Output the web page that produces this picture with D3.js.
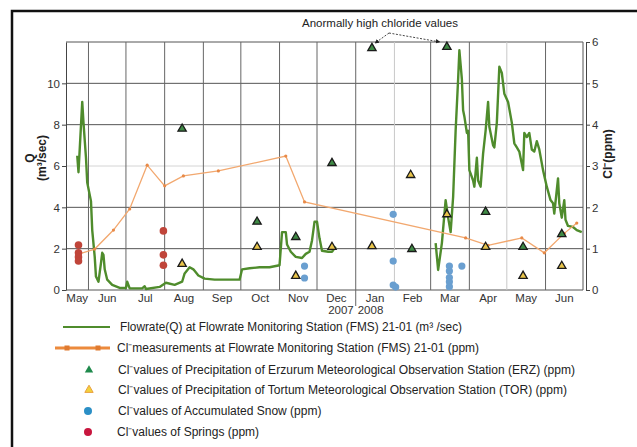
<!DOCTYPE html>
<html>

<head>
    <meta charset="utf-8">
    <style>
        body {
            margin: 0;
            background: #fff;
            font-family: "Liberation Sans", Arial, sans-serif;
        }

        svg {
            overflow: hidden;
        }

        .axis .domain {
            stroke: #444;
        }

        .axis .tick line {
            stroke: #444;
        }

        .axis .tick text {
            font-size: 11.5px;
            fill: #333;
        }

        .month {
            font-size: 11.5px;
            fill: #333;
            text-anchor: middle;
        }

        .axis-title {
            font-size: 12px;
            font-weight: bold;
            fill: #222;
            text-anchor: middle;
        }

        .legend text {
            font-size: 12px;
            fill: #222;
        }
    </style>
</head>

<body>
    <svg width="637" height="447"></svg>

    <script src="https://d3js.org/d3.v7.min.js"></script>
    <script>
        let width = 637;
        let height = 447;
        let svg = d3.select("svg");

        // Flowrate Q (m3/sec), left axis
        let flowrate2007 = [
            ["2007-05-23", 6.5], ["2007-05-24", 5.7], ["2007-05-27", 9.1], ["2007-05-28", 8.1],
            ["2007-05-30", 6.4], ["2007-05-31", 5.2], ["2007-06-03", 4.3], ["2007-06-04", 2.9],
            ["2007-06-06", 1.6], ["2007-06-07", 0.65], ["2007-06-09", 0.4], ["2007-06-11", 1.3],
            ["2007-06-12", 1.8], ["2007-06-13", 1.7], ["2007-06-14", 1.0], ["2007-06-16", 0.5],
            ["2007-06-20", 0.25], ["2007-06-26", 0.1], ["2007-07-01", 0.1], ["2007-07-02", 0.4],
            ["2007-07-04", 0.08], ["2007-07-14", 0.08], ["2007-07-16", 0.18], ["2007-07-17", 0.05],
            ["2007-07-28", 0.15], ["2007-08-02", 0.35], ["2007-08-09", 0.25], ["2007-08-15", 0.4],
            ["2007-08-17", 0.8], ["2007-08-21", 1.1], ["2007-08-24", 1.0], ["2007-08-28", 0.7],
            ["2007-09-02", 0.55], ["2007-09-10", 0.5], ["2007-09-22", 0.5], ["2007-09-30", 0.5],
            ["2007-10-02", 1.0], ["2007-10-08", 1.05], ["2007-10-16", 1.1], ["2007-10-24", 1.1],
            ["2007-11-01", 1.2], ["2007-11-03", 2.8], ["2007-11-06", 2.8], ["2007-11-07", 2.2],
            ["2007-11-10", 1.85], ["2007-11-14", 1.6], ["2007-11-19", 1.55], ["2007-11-22", 1.75],
            ["2007-11-25", 1.85], ["2007-11-27", 2.4], ["2007-11-29", 3.3], ["2007-12-01", 3.3],
            ["2007-12-03", 2.5], ["2007-12-05", 1.9], ["2007-12-10", 1.85], ["2007-12-13", 1.85],
            ["2007-12-16", 2.1]
        ];

        let flowrate2008 = [
            ["2008-03-05", 2.27], ["2008-03-07", 0.97], ["2008-03-10", 2.27], ["2008-03-13", 4.35],
            ["2008-03-15", 3.5], ["2008-03-17", 2.8], ["2008-03-19", 4.5], ["2008-03-21", 7.7],
            ["2008-03-23", 10.2], ["2008-03-24", 11.6], ["2008-03-26", 10.2], ["2008-03-27", 8.7],
            ["2008-03-28", 8.4], ["2008-03-30", 7.6], ["2008-03-31", 7.7], ["2008-04-01", 5.8],
            ["2008-04-04", 5.3], ["2008-04-05", 5.0], ["2008-04-07", 6.4], ["2008-04-08", 5.3],
            ["2008-04-10", 5.0], ["2008-04-12", 6.6], ["2008-04-14", 7.7], ["2008-04-16", 9.1],
            ["2008-04-17", 7.9], ["2008-04-20", 7.0], ["2008-04-21", 6.9], ["2008-04-23", 8.1],
            ["2008-04-25", 10.8], ["2008-04-27", 10.5], ["2008-04-29", 9.5], ["2008-05-02", 9.1],
            ["2008-05-05", 8.1], ["2008-05-07", 7.1], ["2008-05-09", 6.9], ["2008-05-11", 6.7],
            ["2008-05-14", 5.8], ["2008-05-15", 7.6], ["2008-05-17", 7.4], ["2008-05-19", 7.6],
            ["2008-05-21", 6.8], ["2008-05-23", 6.7], ["2008-05-25", 7.2], ["2008-05-27", 6.8],
            ["2008-05-30", 5.8], ["2008-06-02", 5.0], ["2008-06-05", 4.35], ["2008-06-07", 4.2],
            ["2008-06-08", 3.7], ["2008-06-11", 5.4], ["2008-06-12", 4.2], ["2008-06-14", 3.5],
            ["2008-06-16", 4.35], ["2008-06-17", 3.4], ["2008-06-19", 3.1], ["2008-06-23", 3.05],
            ["2008-06-26", 2.9], ["2008-06-30", 2.8]
        ];

        // Cl- (ppm), right axis
        let fmsChloride = [
            ["2007-05-24", 0.87], ["2007-06-06", 0.99], ["2007-06-21", 1.45], ["2007-07-04", 1.96],
            ["2007-07-18", 3.02], ["2007-08-01", 2.52], ["2007-08-16", 2.76], ["2007-09-13", 2.88],
            ["2007-11-06", 3.24], ["2007-11-21", 2.13], ["2008-03-29", 1.26], ["2008-04-16", 1.08],
            ["2008-05-13", 1.26], ["2008-05-31", 0.9], ["2008-06-16", 1.37], ["2008-06-26", 1.62]
        ];

        let erzChloride = [
            ["2007-08-15", 3.9], ["2007-10-14", 1.65], ["2007-11-14", 1.28], ["2007-12-13", 3.07],
            ["2008-01-14", 5.85], ["2008-02-15", 0.99], ["2008-03-14", 5.88], ["2008-04-14", 1.89],
            ["2008-05-14", 1.04], ["2008-06-14", 1.35]
        ];

        let torChloride = [
            ["2007-08-15", 0.63], ["2007-10-14", 1.04], ["2007-11-14", 0.34], ["2007-12-13", 1.04],
            ["2008-01-14", 1.06], ["2008-02-14", 2.78], ["2008-03-14", 1.83], ["2008-04-14", 1.04],
            ["2008-05-14", 0.34], ["2008-06-14", 0.58]
        ];

        let snowChloride = [
            ["2007-11-21", 0.58], ["2007-11-21", 0.29], ["2008-01-31", 1.83], ["2008-01-31", 0.7],
            ["2008-01-31", 0.12], ["2008-02-02", 0.07], ["2008-03-16", 0.58], ["2008-03-16", 0.46],
            ["2008-03-16", 0.3], ["2008-03-16", 0.2], ["2008-03-16", 0.08], ["2008-03-26", 0.58]
        ];

        let springChloride = [
            ["2007-05-24", 1.09], ["2007-05-24", 0.9], ["2007-05-24", 0.8], ["2007-05-24", 0.7],
            ["2007-07-31", 1.43], ["2007-07-31", 0.85], ["2007-07-31", 0.6]
        ];

        let monthLabels = ["May", "Jun", "Jul", "Aug", "Sep", "Oct", "Nov", "Dec",
            "Jan", "Feb", "Mar", "Apr", "May", "Jun"];
        let yearLabels = ["2007", "2008"];
        let flowTicks = [0, 2, 4, 6, 8, 10];
        let flowGrid = [0, 2, 4, 6, 8, 10, 12];
        let chlorideTicks = [0, 1, 2, 3, 4, 5, 6];

        let legendLabels = [
            "Flowrate(Q) at Flowrate Monitoring Station (FMS) 21-01 (m\u00b3 /sec)",
            "Cl\u207bmeasurements at Flowrate Monitoring Station (FMS) 21-01 (ppm)",
            "Cl\u207bvalues of Precipitation of Erzurum Meteorological Observation Station (ERZ)  (ppm)",
            "Cl\u207bvalues of Precipitation of Tortum Meteorological Observation Station (TOR)  (ppm)",
            "Cl\u207bvalues of Accumulated Snow (ppm)",
            "Cl\u207bvalues of Springs (ppm)"
        ];
        let annotationText = "Anormally high chloride values";

        let parse = d3.timeParse("%Y-%m-%d");
        let margin = { top: 42, right: 54, bottom: 157, left: 66 };
        let plotBottom = height - margin.bottom;
        let plotRight = width - margin.right;

        let x = d3.scaleTime()
            .domain([parse("2007-05-14"), parse("2008-07-01")])
            .range([margin.left, plotRight]);

        let yQ = d3.scaleLinear().domain([0, 12]).range([plotBottom, margin.top]);
        let yCl = d3.scaleLinear().domain([0, 6]).range([plotBottom, margin.top]);

        // outer frame
        svg.append("rect")
            .attr("x", 12).attr("y", 11)
            .attr("width", 640).attr("height", 460)
            .style("fill", "none")
            .style("stroke", "#111")
            .style("stroke-width", 2.5);

        // grid
        let monthStarts = d3.timeMonth.range(parse("2007-06-01"), parse("2008-07-01"));
        let lightMonths = ["2008-02", "2008-05"];
        let fmtMonth = d3.timeFormat("%Y-%m");

        svg.append("g")
            .selectAll("line")
            .data(flowGrid)
            .join("line")
            .attr("x1", margin.left).attr("x2", plotRight)
            .attr("y1", d => yQ(d)).attr("y2", d => yQ(d))
            .style("stroke", d => d == 6 ? "#d4d4d4" : "#555")
            .style("stroke-width", 1);

        svg.append("g")
            .selectAll("line")
            .data(monthStarts)
            .join("line")
            .attr("x1", d => x(d)).attr("x2", d => x(d))
            .attr("y1", margin.top)
            .attr("y2", d => fmtMonth(d) == "2008-01" ? plotBottom + 16 : plotBottom)
            .style("stroke", d => lightMonths.includes(fmtMonth(d)) ? "#c8c8c8" : "#666")
            .style("stroke-width", 1);

        // plot right border
        svg.append("line")
            .attr("x1", plotRight).attr("x2", plotRight)
            .attr("y1", margin.top).attr("y2", plotBottom)
            .style("stroke", "#555");

        // axes
        let leftAxis = svg.append("g")
            .attr("class", "axis")
            .attr("transform", `translate(${margin.left},0)`)
            .call(d3.axisLeft(yQ).tickValues(flowTicks).tickSize(4).tickSizeOuter(0).tickPadding(2));

        let rightAxis = svg.append("g")
            .attr("class", "axis")
            .attr("transform", `translate(${plotRight + 3},0)`)
            .call(d3.axisRight(yCl).tickValues(chlorideTicks).tickFormat(d3.format("d"))
                .tickSize(4).tickSizeOuter(0).tickPadding(2));

        // month labels at the middle of each month
        let monthEdges = [x.domain()[0]].concat(monthStarts, [x.domain()[1]]);
        svg.append("g")
            .selectAll("text")
            .data(monthLabels)
            .join("text")
            .attr("class", "month")
            .attr("x", (d, i) => (x(monthEdges[i]) + x(monthEdges[i + 1])) / 2)
            .attr("y", plotBottom + 12)
            .text(d => d);

        let jan = x(parse("2008-01-01"));
        svg.append("g")
            .selectAll("text")
            .data(yearLabels)
            .join("text")
            .attr("class", "month")
            .attr("x", (d, i) => i == 0 ? jan - 2 : jan + 2)
            .attr("y", plotBottom + 24)
            .style("text-anchor", (d, i) => i == 0 ? "end" : "start")
            .text(d => d);

        // axis titles
        let leftTitle = svg.append("text")
            .attr("class", "axis-title")
            .attr("transform", "translate(34,158) rotate(-90)");
        leftTitle.append("tspan").attr("x", 0).attr("dy", 0).text("Q");
        leftTitle.append("tspan").attr("x", 0).attr("dy", 12).text("(m\u00b3/sec)");

        svg.append("text")
            .attr("class", "axis-title")
            .attr("transform", "translate(612,154) rotate(-90)")
            .text("Cl\u207b(ppm)");

        // flowrate lines
        let flowLine = d3.line()
            .x(d => x(parse(d[0])))
            .y(d => yQ(d[1]));

        [flowrate2007, flowrate2008].forEach(series => {
            svg.append("path")
                .datum(series)
                .attr("d", flowLine)
                .style("fill", "none")
                .style("stroke", "#4f8c2c")
                .style("stroke-width", 2.4)
                .style("stroke-linejoin", "round");
        });

        // FMS chloride line
        let clLine = d3.line()
            .x(d => x(parse(d[0])))
            .y(d => yCl(d[1]));

        svg.append("path")
            .datum(fmsChloride)
            .attr("d", clLine)
            .style("fill", "none")
            .style("stroke", "#f2a86f")
            .style("stroke-width", 1.3);

        svg.append("g")
            .selectAll("circle")
            .data(fmsChloride)
            .join("circle")
            .attr("cx", d => x(parse(d[0])))
            .attr("cy", d => yCl(d[1]))
            .attr("r", 1.6)
            .style("fill", "#e88a48");

        // scatter points
        let triangle = d3.symbol().type(d3.symbolTriangle).size(30);

        svg.append("g")
            .selectAll("circle")
            .data(snowChloride)
            .join("circle")
            .attr("cx", d => x(parse(d[0])))
            .attr("cy", d => yCl(d[1]))
            .attr("r", 3.6)
            .style("fill", "#6a9fd0");

        svg.append("g")
            .selectAll("circle")
            .data(springChloride)
            .join("circle")
            .attr("cx", d => x(parse(d[0])))
            .attr("cy", d => yCl(d[1]))
            .attr("r", 3.8)
            .style("fill", "#c0453a");

        svg.append("g")
            .selectAll("path")
            .data(erzChloride)
            .join("path")
            .attr("d", triangle)
            .attr("transform", d => `translate(${x(parse(d[0]))},${yCl(d[1])})`)
            .style("fill", "#3f8a45")
            .style("stroke", "#1a1a1a")
            .style("stroke-width", 1.3);

        svg.append("g")
            .selectAll("path")
            .data(torChloride)
            .join("path")
            .attr("d", triangle)
            .attr("transform", d => `translate(${x(parse(d[0]))},${yCl(d[1])})`)
            .style("fill", "#e8c44a")
            .style("stroke", "#1a1a1a")
            .style("stroke-width", 1.3);

        // annotation
        svg.append("defs").append("marker")
            .attr("id", "arrow")
            .attr("viewBox", "0 0 10 10")
            .attr("refX", 9).attr("refY", 5)
            .attr("markerWidth", 5).attr("markerHeight", 5)
            .attr("orient", "auto")
            .append("path")
            .attr("d", "M0,0 L10,5 L0,10 z")
            .style("fill", "#222");

        svg.append("text")
            .attr("x", 380).attr("y", 27)
            .style("font-size", "11.5px")
            .style("text-anchor", "middle")
            .style("fill", "#222")
            .text(annotationText);

        let arrowStart = [389, 33];
        [erzChloride[4], erzChloride[6]].forEach(d => {
            svg.append("line")
                .attr("x1", arrowStart[0]).attr("y1", arrowStart[1])
                .attr("x2", x(parse(d[0])) + (d == erzChloride[4] ? 3 : -7))
                .attr("y2", yCl(d[1]) - 5)
                .style("stroke", "#333")
                .style("stroke-width", 0.9)
                .style("stroke-dasharray", "2 1.5")
                .attr("marker-end", "url(#arrow)");
        });

        // legend
        let legend = svg.append("g").attr("class", "legend");
        let rowY = [327, 348, 370, 390, 411, 432];
        let textX = [120, 117, 118, 118, 118, 117];
        let textEnd = [462, 479, 575, 567, null, null];

        legend.selectAll("text")
            .data(legendLabels)
            .join("text")
            .attr("x", (d, i) => textX[i])
            .attr("y", (d, i) => rowY[i] + 4)
            .attr("textLength", (d, i) => textEnd[i] ? textEnd[i] - textX[i] : null)
            .attr("lengthAdjust", "spacingAndGlyphs")
            .text(d => d);

        legend.append("line")
            .attr("x1", 63).attr("x2", 110)
            .attr("y1", rowY[0]).attr("y2", rowY[0])
            .style("stroke", "#4f8c2c")
            .style("stroke-width", 2.2);

        legend.append("line")
            .attr("x1", 55).attr("x2", 110)
            .attr("y1", rowY[1]).attr("y2", rowY[1])
            .style("stroke", "#ec8a3c")
            .style("stroke-width", 3);

        legend.selectAll("rect")
            .data([67, 98])
            .join("rect")
            .attr("x", d => d - 2.5).attr("y", rowY[1] - 2.5)
            .attr("width", 5).attr("height", 5)
            .style("fill", "#e07a30");

        legend.append("path")
            .attr("d", triangle)
            .attr("transform", `translate(89,${rowY[2]})`)
            .style("fill", "#1f8a4c");

        legend.append("path")
            .attr("d", triangle)
            .attr("transform", `translate(89,${rowY[3]})`)
            .style("fill", "#f2d23c")
            .style("stroke", "#eaa040")
            .style("stroke-width", 1);

        legend.append("circle")
            .attr("cx", 88).attr("cy", rowY[4]).attr("r", 4)
            .style("fill", "#2b8fc6");

        legend.append("circle")
            .attr("cx", 88).attr("cy", rowY[5]).attr("r", 4)
            .style("fill", "#c8163e");
    </script>
</body>

</html>
